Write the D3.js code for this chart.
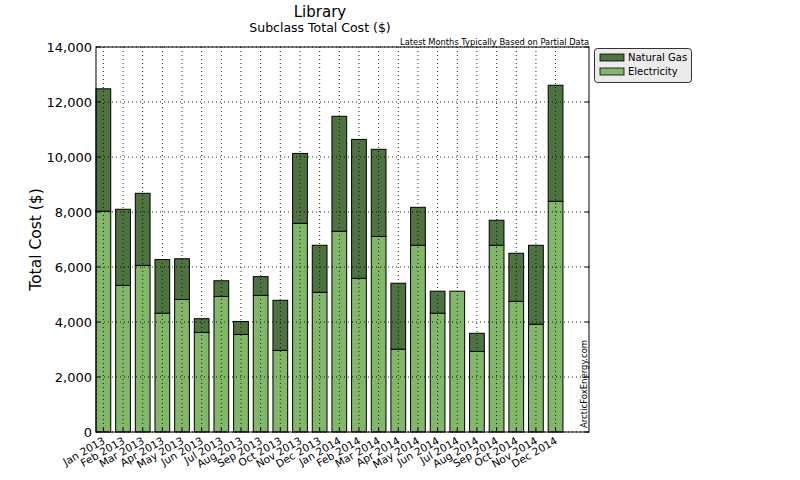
<!DOCTYPE html>
<html><head><meta charset="utf-8">
<script src="https://cdn.jsdelivr.net/npm/d3@7"></script>
<style>body{margin:0;background:#fff;}svg{font-family:"DejaVu Sans",sans-serif;}</style>
</head><body>
<svg id="c" width="800" height="480"></svg>
<script>
const months = ["Jan 2013","Feb 2013","Mar 2013","Apr 2013","May 2013","Jun 2013","Jul 2013","Aug 2013","Sep 2013","Oct 2013","Nov 2013","Dec 2013","Jan 2014","Feb 2014","Mar 2014","Apr 2014","May 2014","Jun 2014","Jul 2014","Aug 2014","Sep 2014","Oct 2014","Nov 2014","Dec 2014"];
const electricity = [8030,5330,6060,4320,4820,3620,4930,3550,4970,2970,7590,5080,7300,5590,7110,3010,6790,4320,5120,2930,6790,4750,3920,8390];
const naturalGas = [4450,2770,2620,1950,1480,500,570,470,680,1820,2540,1710,4180,5050,3170,2400,1380,800,0,660,910,1750,2870,4220];
const yTicks = [0,2000,4000,6000,8000,10000,12000,14000];
const seriesNames = ["Electricity","Natural Gas"];
const colors = {"Electricity":"#82b76a","Natural Gas":"#4e7340"};

const svg = d3.select("#c");
const m = {l:96,r:589,t:47,b:432};
const x = d3.scaleLinear().domain([-0.375,24.7]).range([m.l,m.r]);
const y = d3.scaleLinear().domain([0,14000]).range([m.b,m.t]);
const bw = x(0.75)-x(0);

const data = months.map((mo,i)=>({mo,i,Electricity:electricity[i],"Natural Gas":naturalGas[i]}));
const stack = d3.stack().keys(seriesNames)(data);
svg.append("g").selectAll("g").data(stack).enter().append("g")
  .attr("fill",d=>colors[d.key])
  .selectAll("rect").data(d=>d.filter(p=>p[1]-p[0]>0)).enter().append("rect")
  .attr("x",d=>x(d.data.i)-bw/2).attr("width",bw)
  .attr("y",d=>y(d[1])).attr("height",d=>y(d[0])-y(d[1]))
  .attr("stroke","#000").attr("stroke-width",1);

// grid on top of bars
const g2 = svg.append("g");
g2.selectAll("line").data(months).enter().append("line")
  .attr("x1",(d,i)=>x(i)).attr("x2",(d,i)=>x(i)).attr("y1",m.t).attr("y2",m.b)
  .attr("stroke","#000").attr("stroke-dasharray","1,3").attr("stroke-width",1).attr("opacity",0.85);
const g3 = svg.append("g");
g3.selectAll("line").data(yTicks).enter().append("line")
  .attr("x1",m.l).attr("x2",m.r).attr("y1",d=>y(d)).attr("y2",d=>y(d))
  .attr("stroke","#000").attr("stroke-dasharray","1,3").attr("stroke-width",1).attr("opacity",0.85);

// frame
svg.append("rect").attr("x",m.l).attr("y",m.t).attr("width",m.r-m.l).attr("height",m.b-m.t)
  .attr("fill","none").attr("stroke","#000").attr("stroke-width",1);

// axes
const yAxis = d3.axisLeft(y).tickValues(yTicks).tickFormat(d3.format(",")).tickSize(0).tickPadding(4);
const ya = svg.append("g").attr("transform",`translate(${m.l},0)`).call(yAxis);
ya.select(".domain").remove();
ya.selectAll("text").attr("font-size",13).attr("fill","#000").attr("font-family","DejaVu Sans");
svg.append("g").selectAll("line").data(yTicks).enter().append("line")
  .attr("x1",m.l).attr("x2",m.l+4).attr("y1",d=>y(d)).attr("y2",d=>y(d)).attr("stroke","#000");
svg.append("g").selectAll("line").data(yTicks).enter().append("line")
  .attr("x1",m.r-4).attr("x2",m.r).attr("y1",d=>y(d)).attr("y2",d=>y(d)).attr("stroke","#000");

const xAxis = d3.axisBottom(x).tickValues(d3.range(months.length)).tickFormat(i=>months[i]).tickSize(0).tickPadding(0);
const xa = svg.append("g").attr("transform",`translate(0,${m.b})`).call(xAxis);
xa.select(".domain").remove();
xa.selectAll("text").attr("font-size",10.5).attr("fill","#000").attr("font-family","DejaVu Sans")
  .attr("text-anchor","end").attr("x",0).attr("y",0).attr("dy","0.75em")
  .attr("transform","translate(-2,4) rotate(-30)");
svg.append("g").selectAll("line").data(months).enter().append("line")
  .attr("x1",(d,i)=>x(i)).attr("x2",(d,i)=>x(i)).attr("y1",m.b-4).attr("y2",m.b).attr("stroke","#000");

// titles
svg.append("text").attr("x",320).attr("y",17).attr("text-anchor","middle").attr("font-size",15).text("Library");
svg.append("text").attr("x",320).attr("y",32).attr("text-anchor","middle").attr("font-size",12.5).text("Subclass Total Cost ($)");
svg.append("text").attr("x",m.r).attr("y",44.5).attr("text-anchor","end").attr("font-size",8.3).text("Latest Months Typically Based on Partial Data");
svg.append("text").attr("transform",`translate(41,${(m.t+m.b)/2}) rotate(-90)`).attr("text-anchor","middle").attr("font-size",15.5).text("Total Cost ($)");
svg.append("text").attr("transform",`translate(587,428) rotate(-90)`).attr("text-anchor","start").attr("font-size",8.5).text("ArcticFoxEnergy.com");

// legend
const lg = svg.append("g");
lg.append("rect").attr("x",594.5).attr("y",48.5).attr("width",97).attr("height",34).attr("rx",3)
  .attr("fill","#ebebeb").attr("stroke","#000").attr("stroke-width",0.8);
const legItems = ["Natural Gas","Electricity"];
legItems.forEach((k,j)=>{
  lg.append("rect").attr("x",600).attr("y",54+j*14).attr("width",24).attr("height",7)
    .attr("fill",colors[k]).attr("stroke","#000").attr("stroke-width",0.8);
  lg.append("text").attr("x",628).attr("y",61+j*14).attr("font-size",10).text(k);
});
</script>
</body></html>
